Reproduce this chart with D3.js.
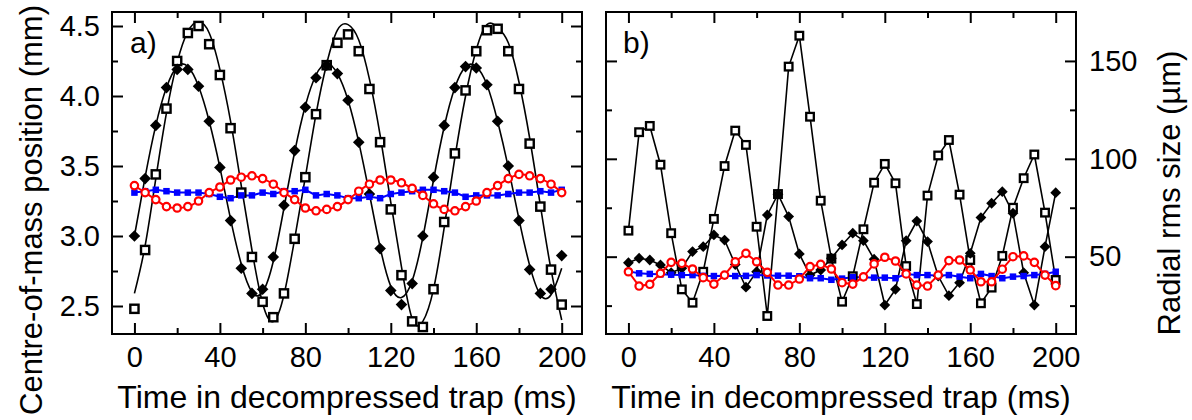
<!DOCTYPE html>
<html><head><meta charset="utf-8">
<script src="https://cdn.jsdelivr.net/npm/d3@7"></script>
<style>
html,body{margin:0;padding:0;background:#fff;}
svg text{font-family:"Liberation Sans",Arial,Helvetica,sans-serif;fill:#000;}
</style></head>
<body><svg id="c" width="1192" height="420"></svg>
<script>
// ---- data ----
const times = [0,5,10,15,20,25,30,35,40,45,50,55,60,65,70,75,80,85,90,95,100,105,110,115,120,125,130,135,140,145,150,155,160,165,170,175,180,185,190,195,200];

// panel a) centre-of-mass position (mm)
const squaresA = [2.48,2.90,3.44,3.91,4.25,4.45,4.50,4.37,4.15,3.77,3.31,2.85,2.53,2.42,2.59,2.98,3.42,3.87,4.22,4.38,4.44,4.32,4.05,3.67,3.19,2.72,2.39,2.35,2.62,3.10,3.59,4.04,4.32,4.47,4.48,4.32,4.05,3.66,3.21,2.76,2.51];
const diamondsA = [3.00,3.41,3.79,4.06,4.19,4.19,4.07,3.82,3.49,3.11,2.77,2.59,2.62,2.85,3.22,3.61,3.92,4.13,4.22,4.16,3.97,3.67,3.30,2.91,2.61,2.51,2.66,3.00,3.42,3.79,4.06,4.21,4.20,4.08,3.82,3.50,3.11,2.76,2.59,2.62,2.86];
const circlesA = [3.36,3.31,3.26,3.21,3.20,3.21,3.25,3.31,3.35,3.40,3.42,3.43,3.41,3.37,3.31,3.26,3.20,3.18,3.19,3.21,3.26,3.32,3.37,3.40,3.40,3.38,3.34,3.29,3.23,3.19,3.18,3.21,3.25,3.31,3.36,3.41,3.44,3.43,3.41,3.37,3.31];
const blueA = [3.31,3.32,3.33,3.32,3.31,3.31,3.31,3.30,3.28,3.27,3.29,3.29,3.31,3.30,3.32,3.32,3.33,3.29,3.30,3.29,3.27,3.27,3.28,3.27,3.30,3.31,3.32,3.33,3.33,3.32,3.31,3.28,3.29,3.29,3.29,3.30,3.31,3.31,3.32,3.31,3.33];
// fitted curves (panel a)
const fitSquaresA = [2.59,2.93,3.41,3.88,4.24,4.46,4.53,4.45,4.19,3.82,3.36,2.90,2.52,2.39,2.58,2.98,3.42,3.87,4.23,4.47,4.51,4.40,4.12,3.72,3.24,2.78,2.41,2.39,2.62,3.06,3.56,4.00,4.33,4.51,4.49,4.38,4.10,3.70,3.22,2.76,2.40];
const fitDiamondsA = [3.00,3.42,3.79,4.06,4.21,4.21,4.07,3.82,3.49,3.12,2.80,2.60,2.60,2.82,3.20,3.60,3.93,4.15,4.23,4.16,3.97,3.67,3.30,2.92,2.64,2.56,2.68,2.99,3.40,3.78,4.06,4.21,4.21,4.08,3.82,3.49,3.12,2.79,2.58,2.58,2.77];

// panel b) radial rms size (µm)
const squaresB = [63.3,113.6,116.8,97.0,62.0,33.3,26.5,42.3,69.3,96.3,114.4,107.1,65.3,19.7,82.0,147.1,162.9,121.5,78.6,49.0,27.0,40.0,64.0,87.8,97.4,87.5,45.2,25.8,81.2,101.7,109.6,81.7,48.3,26.2,34.2,50.4,75.0,90.1,102.2,72.5,38.1];
const diamondsB = [46.9,49.2,48.3,45.8,41.8,44.1,52.6,55.1,61.1,58.5,46.0,34.4,42.3,71.3,81.9,70.5,51.4,40.6,43.2,49.2,56.0,62.0,58.2,48.7,25.3,33.3,58.2,68.2,57.7,40.1,30.1,36.7,51.7,70.0,77.3,83.2,72.2,41.8,25.3,55.1,82.7];
const circlesB = [42.3,35.0,35.9,41.5,47.1,46.6,43.7,39.3,36.0,40.6,47.4,51.7,47.4,42.0,35.5,35.5,38.6,44.9,46.1,43.7,36.7,36.0,39.7,46.3,49.7,47.8,41.2,35.5,35.0,40.6,48.0,48.3,43.2,37.2,37.2,43.6,50.0,50.4,47.1,40.6,35.2];
const blueB = [42.5,41.5,41.2,41.0,40.8,40.6,40.6,40.2,40.1,40.3,40.1,40.2,40.6,40.4,40.3,40.3,40.0,39.0,39.0,38.2,38.8,39.5,39.5,39.3,39.3,39.0,41.2,40.6,40.6,40.2,40.6,39.8,39.0,41.2,40.1,39.0,39.8,40.1,40.6,41.2,42.3];

// ticks
const xMajor = [0,40,80,120,160,200];
const xMinor = [20,60,100,140,180];
const yMajorA = [2.5,3.0,3.5,4.0,4.5];
const yMinorA = [2.75,3.25,3.75,4.25];
const yMajorB = [50,100,150];
const yMinorB = [25,75,125];

const xTitle = "Time in decompressed trap (ms)";
const yTitleA = "Centre-of-mass position (mm)";
const yTitleB = "Radial rms size (µm)";

// ---- drawing ----
const svg = d3.select("#c");
const yTop = 12, yBot = 334;
const panelA = {x0:112, x1:582}, panelB = {x0:606, x1:1076};
const xDom = [-10.5, 209.5];
const xA = d3.scaleLinear().domain(xDom).range([panelA.x0, panelA.x1]);
const xB = d3.scaleLinear().domain(xDom).range([panelB.x0, panelB.x1]);
const yA = d3.scaleLinear().domain([2.3, 4.6]).range([yBot, yTop]);
const yB = d3.scaleLinear().domain([10.5, 175]).range([yBot, yTop]);

const FS = 29, TS = 31;
const MAJ = 11, MIN = 6;

function axes(x, y, yMaj, yMin, labelSide, fmt) {
  const g = svg.append("g");
  const styleAxis = sel => {
    sel.select(".domain").remove();
    sel.selectAll(".tick line").attr("stroke","#000").attr("stroke-width",2);
    sel.selectAll("text").attr("font-size",FS).attr("font-family",'"Liberation Sans",Arial,sans-serif').attr("fill","#000");
  };
  g.append("g").attr("transform",`translate(0,${yBot})`)
    .call(d3.axisBottom(x).tickValues(xMajor).tickSize(-MAJ).tickPadding(12).tickFormat(d3.format("d"))).call(styleAxis);
  g.append("g").attr("transform",`translate(0,${yBot})`)
    .call(d3.axisBottom(x).tickValues(xMinor).tickSize(-MIN).tickFormat("")).call(styleAxis);
  g.append("g").attr("transform",`translate(0,${yTop})`)
    .call(d3.axisTop(x).tickValues(xMajor).tickSize(-MAJ).tickFormat("")).call(styleAxis);
  g.append("g").attr("transform",`translate(0,${yTop})`)
    .call(d3.axisTop(x).tickValues(xMinor).tickSize(-MIN).tickFormat("")).call(styleAxis);
  const [l, r] = x.range();
  g.append("g").attr("transform",`translate(${l},0)`)
    .call(d3.axisLeft(y).tickValues(yMaj).tickSize(-MAJ).tickPadding(12).tickFormat(labelSide==="left"?fmt:"")).call(styleAxis);
  g.append("g").attr("transform",`translate(${l},0)`)
    .call(d3.axisLeft(y).tickValues(yMin).tickSize(-MIN).tickFormat("")).call(styleAxis);
  g.append("g").attr("transform",`translate(${r},0)`)
    .call(d3.axisRight(y).tickValues(yMaj).tickSize(-MAJ).tickPadding(13).tickFormat(labelSide==="right"?fmt:"")).call(styleAxis);
  g.append("g").attr("transform",`translate(${r},0)`)
    .call(d3.axisRight(y).tickValues(yMin).tickSize(-MIN).tickFormat("")).call(styleAxis);
  g.append("rect").attr("x",l).attr("y",yTop).attr("width",r-l).attr("height",yBot-yTop)
    .attr("fill","none").attr("stroke","#000").attr("stroke-width",2);
}

function clip(id, x0, x1) {
  svg.append("clipPath").attr("id",id).append("rect")
    .attr("x",x0).attr("y",yTop).attr("width",x1-x0).attr("height",yBot-yTop);
}
clip("ca", panelA.x0, panelA.x1);
clip("cb", panelB.x0, panelB.x1);

const sqOpen = (g, x, y, vals, side, sw) => g.selectAll(null).data(vals).join("rect")
  .attr("x",(d,i)=>x(times[i])-side/2).attr("y",d=>y(d)-side/2).attr("width",side).attr("height",side)
  .attr("fill","#fff").attr("stroke","#000").attr("stroke-width",sw);
const diamond = (g, x, y, vals, half) => g.selectAll(null).data(vals).join("path")
  .attr("d",(d,i)=>{const cx=x(times[i]), cy=y(d); return `M${cx},${cy-half}L${cx+half},${cy}L${cx},${cy+half}L${cx-half},${cy}Z`;})
  .attr("fill","#000");
const circ = (g, x, y, vals, r) => g.selectAll(null).data(vals).join("circle")
  .attr("cx",(d,i)=>x(times[i])).attr("cy",d=>y(d)).attr("r",r)
  .attr("fill","#fff").attr("stroke","#ff0000").attr("stroke-width",2.2);
const sqFill = (g, x, y, vals, side, col) => g.selectAll(null).data(vals).join("rect")
  .attr("x",(d,i)=>x(times[i])-side/2).attr("y",d=>y(d)-side/2).attr("width",side).attr("height",side)
  .attr("fill",col);
const line = (g, x, y, vals, col, w, curve) => g.append("path")
  .attr("d", d3.line().x((d,i)=>x(times[i])).y(d=>y(d)).curve(curve)(vals))
  .attr("fill","none").attr("stroke",col).attr("stroke-width",w);

// panel a
const gA = svg.append("g").attr("clip-path","url(#ca)");
line(gA, xA, yA, fitSquaresA, "#000", 1.6, d3.curveNatural);
line(gA, xA, yA, fitDiamondsA, "#000", 1.6, d3.curveNatural);
line(gA, xA, yA, blueA, "#0000ff", 2, d3.curveLinear);
sqOpen(gA, xA, yA, squaresA, 8.2, 2.4);
diamond(gA, xA, yA, diamondsA, 5.8);
sqFill(gA, xA, yA, blueA, 6.5, "#0000ff");
line(gA, xA, yA, circlesA, "#ff0000", 2, d3.curveCatmullRom);
circ(gA, xA, yA, circlesA, 3.7);

// panel b
const gB = svg.append("g").attr("clip-path","url(#cb)");
line(gB, xB, yB, squaresB, "#000", 1.6, d3.curveLinear);
line(gB, xB, yB, diamondsB, "#000", 1.6, d3.curveLinear);
line(gB, xB, yB, blueB, "#0000ff", 2, d3.curveLinear);
sqOpen(gB, xB, yB, squaresB, 7.6, 2.3);
diamond(gB, xB, yB, diamondsB, 5.4);
sqFill(gB, xB, yB, blueB, 6.5, "#0000ff");
line(gB, xB, yB, circlesB, "#ff0000", 2, d3.curveLinear);
circ(gB, xB, yB, circlesB, 3.7);

axes(xA, yA, yMajorA, yMinorA, "left", d3.format(".1f"));
axes(xB, yB, yMajorB, yMinorB, "right", d3.format("d"));

svg.append("text").attr("x",130).attr("y",53).attr("font-size",30).text("a)");
svg.append("text").attr("x",623).attr("y",53).attr("font-size",30).text("b)");

svg.append("text").attr("x",(panelA.x0+panelA.x1)/2).attr("y",408).attr("text-anchor","middle").attr("font-size",32).text(xTitle);
svg.append("text").attr("x",(panelB.x0+panelB.x1)/2).attr("y",408).attr("text-anchor","middle").attr("font-size",32).text(xTitle);
svg.append("text").attr("transform","translate(42,210) rotate(-90)").attr("text-anchor","middle").attr("font-size",TS).text(yTitleA);
svg.append("text").attr("transform","translate(1180,193) rotate(-90)").attr("text-anchor","middle").attr("font-size",TS).text(yTitleB);
</script></body></html>
